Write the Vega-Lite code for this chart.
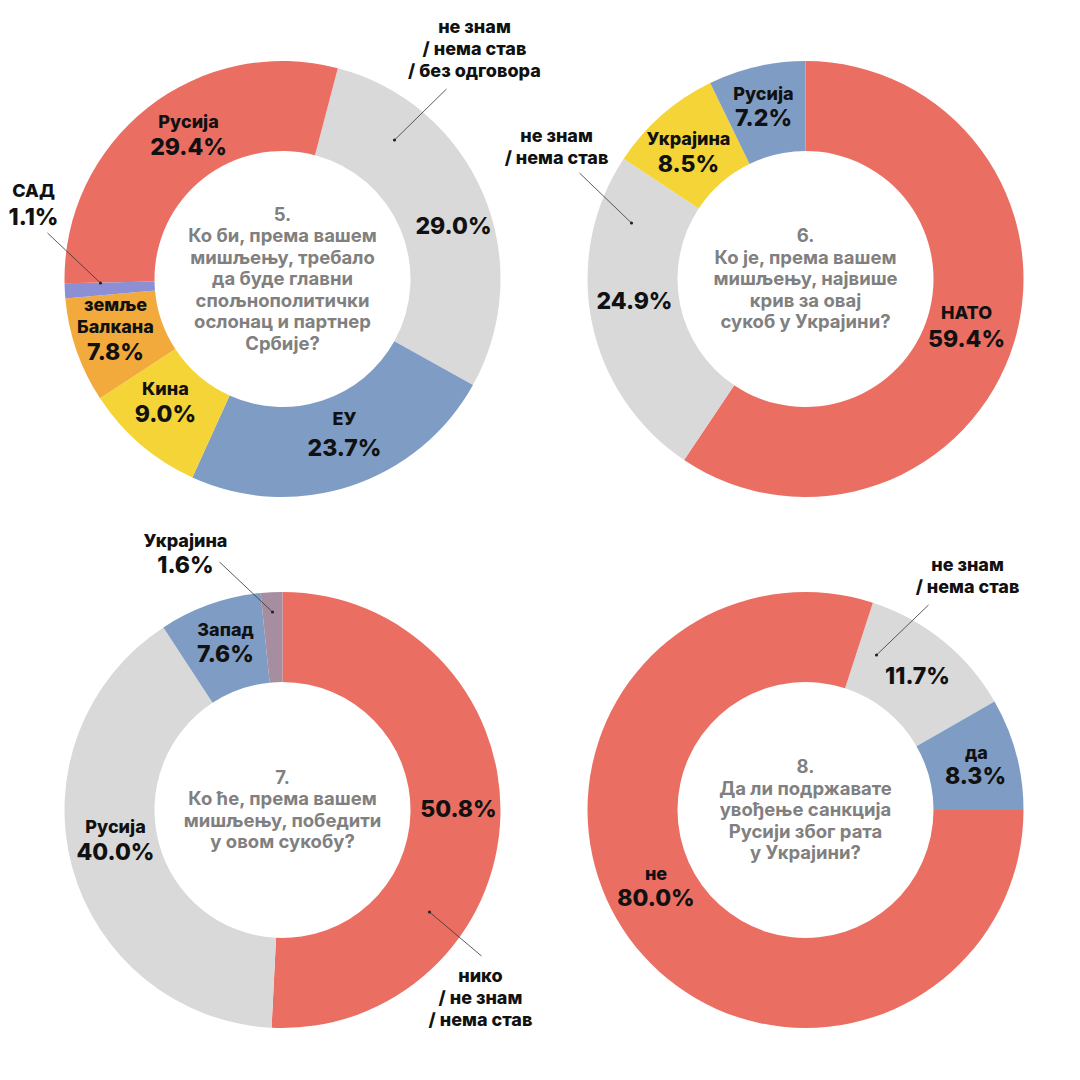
{
  "$schema": "https://vega.github.io/schema/vega-lite/v6.json",
  "background": "#ffffff",
  "autosize": {"type": "pad"},
  "padding": {"left": 8, "top": 13.5, "right": 0, "bottom": 0},
  "spacing": 0,
  "columns": 2,
  "bounds": "flush",
  "config": {
    "view": {"stroke": null},
    "text": {"font": "Inter", "color": "#111111", "align": "center", "baseline": "middle", "lineBreak": "\n", "lineHeight": 22},
    "style": {
      "nm": {"fontSize": 18, "fontWeight": 800},
      "pc": {"fontSize": 23, "fontWeight": 800}
    }
  },
  "resolve": {"scale": {"color": "independent", "theta": "independent", "x": "independent", "y": "independent"}},
  "concat": [
    {
      "width": 523, "height": 531,
      "layer": [
        {
          "data": {"values": [
            {"k": 1, "n": "не знам\n/ нема став\n/ без одговора", "v": 0.290},
            {"k": 2, "n": "ЕУ", "v": 0.237},
            {"k": 3, "n": "Кина", "v": 0.090},
            {"k": 4, "n": "земље\nБалкана", "v": 0.078},
            {"k": 5, "n": "САД", "v": 0.011},
            {"k": 6, "n": "Русија", "v": 0.294}
          ]},
          "transform": [{"window": [{"op": "sum", "field": "v", "as": "s1"}], "sort": [{"field": "k", "order": "ascending"}], "frame": [null, 0]}],
          "layer": [
            {"mark": {"type": "arc", "radius": 218, "innerRadius": 128}, "encoding": {
              "theta": {"field": "v", "type": "quantitative", "stack": true, "scale": {"domain": [0, 1], "range": [0.25656, 6.53975]}},
              "order": {"field": "k", "type": "quantitative"},
              "color": {"field": "n", "type": "nominal", "legend": null, "scale": {"domain": ["не знам\n/ нема став\n/ без одговора", "ЕУ", "Кина", "земље\nБалкана", "САД", "Русија"], "range": ["#D9D9D9", "#7F9DC4", "#F4D436", "#F2AA3C", "#8C8FD3", "#EB6E63"]}}}},
            {"transform": [{"filter": "datum.k==1"}], "mark": {"type": "text", "style": "nm", "radius": 172, "dx": 41.7, "dy": -334.6}, "encoding": {"theta": {"field": "s1", "type": "quantitative"}, "text": {"field": "n", "type": "nominal"}}},
            {"transform": [{"filter": "datum.k==1"}], "mark": {"type": "text", "style": "pc", "radius": 172, "dx": 20.7, "dy": -135.6}, "encoding": {"theta": {"field": "s1", "type": "quantitative"}, "text": {"field": "v", "type": "quantitative", "format": ".1%"}}},
            {"transform": [{"filter": "datum.k==2"}], "mark": {"type": "text", "style": "nm", "radius": 172, "dx": 133.1, "dy": -15.6}, "encoding": {"theta": {"field": "s1", "type": "quantitative"}, "text": {"field": "n", "type": "nominal"}}},
            {"transform": [{"filter": "datum.k==2"}], "mark": {"type": "text", "style": "pc", "radius": 172, "dx": 133.1, "dy": 13.4}, "encoding": {"theta": {"field": "s1", "type": "quantitative"}, "text": {"field": "v", "type": "quantitative", "format": ".1%"}}},
            {"transform": [{"filter": "datum.k==3"}], "mark": {"type": "text", "style": "nm", "radius": 172, "dx": 26.9, "dy": 16.9}, "encoding": {"theta": {"field": "s1", "type": "quantitative"}, "text": {"field": "n", "type": "nominal"}}},
            {"transform": [{"filter": "datum.k==3"}], "mark": {"type": "text", "style": "pc", "radius": 172, "dx": 26.9, "dy": 41.9}, "encoding": {"theta": {"field": "s1", "type": "quantitative"}, "text": {"field": "v", "type": "quantitative", "format": ".1%"}}},
            {"transform": [{"filter": "datum.k==4"}], "mark": {"type": "text", "style": "nm", "radius": 172, "dx": 4.3, "dy": 11.7}, "encoding": {"theta": {"field": "s1", "type": "quantitative"}, "text": {"field": "n", "type": "nominal"}}},
            {"transform": [{"filter": "datum.k==4"}], "mark": {"type": "text", "style": "pc", "radius": 172, "dx": 4.3, "dy": 58.7}, "encoding": {"theta": {"field": "s1", "type": "quantitative"}, "text": {"field": "v", "type": "quantitative", "format": ".1%"}}},
            {"transform": [{"filter": "datum.k==5"}], "mark": {"type": "text", "style": "nm", "radius": 172, "dx": -77, "dy": -90.4}, "encoding": {"theta": {"field": "s1", "type": "quantitative"}, "text": {"field": "n", "type": "nominal"}}},
            {"transform": [{"filter": "datum.k==5"}], "mark": {"type": "text", "style": "pc", "radius": 172, "dx": -77, "dy": -64.4}, "encoding": {"theta": {"field": "s1", "type": "quantitative"}, "text": {"field": "v", "type": "quantitative", "format": ".1%"}}},
            {"transform": [{"filter": "datum.k==6"}], "mark": {"type": "text", "style": "nm", "radius": 172, "dx": -137.6, "dy": 10.4}, "encoding": {"theta": {"field": "s1", "type": "quantitative"}, "text": {"field": "n", "type": "nominal"}}},
            {"transform": [{"filter": "datum.k==6"}], "mark": {"type": "text", "style": "pc", "radius": 172, "dx": -137.6, "dy": 35.4}, "encoding": {"theta": {"field": "s1", "type": "quantitative"}, "text": {"field": "v", "type": "quantitative", "format": ".1%"}}}
          ]
        },
        {"data": {"values": [{"u": 1}]}, "mark": {"type": "rule", "color": "#333333", "strokeWidth": 0.8}, "encoding": {"x": {"datum": -235, "type": "quantitative", "scale": {"domain": [-261.5, 261.5], "nice": false, "zero": false}, "axis": null}, "y": {"datum": -46, "type": "quantitative", "scale": {"domain": [-265.5, 265.5], "reverse": true, "nice": false, "zero": false}, "axis": null}, "x2": {"datum": -182}, "y2": {"datum": 4}}},
        {"data": {"values": [{"u": 1}]}, "mark": {"type": "rule", "color": "#333333", "strokeWidth": 0.8}, "encoding": {"x": {"datum": 164, "type": "quantitative", "scale": {"domain": [-261.5, 261.5], "nice": false, "zero": false}, "axis": null}, "y": {"datum": -190, "type": "quantitative", "scale": {"domain": [-265.5, 265.5], "reverse": true, "nice": false, "zero": false}, "axis": null}, "x2": {"datum": 112}, "y2": {"datum": -139}}},
        {"data": {"values": [{"u": 1}]}, "mark": {"type": "point", "filled": true, "size": 10, "color": "#222222", "opacity": 1}, "encoding": {"x": {"datum": -182, "type": "quantitative", "scale": {"domain": [-261.5, 261.5], "nice": false, "zero": false}, "axis": null}, "y": {"datum": 4, "type": "quantitative", "scale": {"domain": [-265.5, 265.5], "reverse": true, "nice": false, "zero": false}, "axis": null}}},
        {"data": {"values": [{"u": 1}]}, "mark": {"type": "point", "filled": true, "size": 10, "color": "#222222", "opacity": 1}, "encoding": {"x": {"datum": 112, "type": "quantitative", "scale": {"domain": [-261.5, 261.5], "nice": false, "zero": false}, "axis": null}, "y": {"datum": -139, "type": "quantitative", "scale": {"domain": [-265.5, 265.5], "reverse": true, "nice": false, "zero": false}, "axis": null}}},
        {"data": {"values": [{"q": "5.\nКо би, према вашем\nмишљењу, требало\nда буде главни\nспољнополитички\nослонац и партнер\nСрбије?"}]}, "mark": {"type": "text", "fontSize": 18.5, "fontWeight": 700, "color": "#808080", "lineHeight": 21.5, "dy": -64.5}, "encoding": {"text": {"field": "q", "type": "nominal"}}}
      ]
    },
    {
      "width": 523, "height": 531,
      "layer": [
        {
          "data": {"values": [
            {"k": 1, "n": "НАТО", "v": 0.594},
            {"k": 2, "n": "не знам\n/ нема став", "v": 0.249},
            {"k": 3, "n": "Украјина", "v": 0.085},
            {"k": 4, "n": "Русија", "v": 0.072}
          ]},
          "transform": [{"window": [{"op": "sum", "field": "v", "as": "s1"}], "sort": [{"field": "k", "order": "ascending"}], "frame": [null, 0]}],
          "layer": [
            {"mark": {"type": "arc", "radius": 218, "innerRadius": 128}, "encoding": {
              "theta": {"field": "v", "type": "quantitative", "stack": true, "scale": {"domain": [0, 1], "range": [0, 6.28319]}},
              "order": {"field": "k", "type": "quantitative"},
              "color": {"field": "n", "type": "nominal", "legend": null, "scale": {"domain": ["НАТО", "не знам\n/ нема став", "Украјина", "Русија"], "range": ["#EB6E63", "#D9D9D9", "#F4D436", "#7F9DC4"]}}}},
            {"transform": [{"filter": "datum.k==1"}], "mark": {"type": "text", "style": "nm", "radius": 172, "dx": 256.8, "dy": -107.8}, "encoding": {"theta": {"field": "s1", "type": "quantitative"}, "text": {"field": "n", "type": "nominal"}}},
            {"transform": [{"filter": "datum.k==1"}], "mark": {"type": "text", "style": "pc", "radius": 172, "dx": 256.8, "dy": -81.8}, "encoding": {"theta": {"field": "s1", "type": "quantitative"}, "text": {"field": "v", "type": "quantitative", "format": ".1%"}}},
            {"transform": [{"filter": "datum.k==2"}], "mark": {"type": "text", "style": "nm", "radius": 172, "dx": -105.5, "dy": -47.1}, "encoding": {"theta": {"field": "s1", "type": "quantitative"}, "text": {"field": "n", "type": "nominal"}}},
            {"transform": [{"filter": "datum.k==2"}], "mark": {"type": "text", "style": "pc", "radius": 172, "dx": -27.5, "dy": 117.9}, "encoding": {"theta": {"field": "s1", "type": "quantitative"}, "text": {"field": "v", "type": "quantitative", "format": ".1%"}}},
            {"transform": [{"filter": "datum.k==3"}], "mark": {"type": "text", "style": "nm", "radius": 172, "dx": -41.8, "dy": 15.7}, "encoding": {"theta": {"field": "s1", "type": "quantitative"}, "text": {"field": "n", "type": "nominal"}}},
            {"transform": [{"filter": "datum.k==3"}], "mark": {"type": "text", "style": "pc", "radius": 172, "dx": -41.8, "dy": 40.7}, "encoding": {"theta": {"field": "s1", "type": "quantitative"}, "text": {"field": "v", "type": "quantitative", "format": ".1%"}}},
            {"transform": [{"filter": "datum.k==4"}], "mark": {"type": "text", "style": "nm", "radius": 172, "dx": -42, "dy": -12}, "encoding": {"theta": {"field": "s1", "type": "quantitative"}, "text": {"field": "n", "type": "nominal"}}},
            {"transform": [{"filter": "datum.k==4"}], "mark": {"type": "text", "style": "pc", "radius": 172, "dx": -42, "dy": 12}, "encoding": {"theta": {"field": "s1", "type": "quantitative"}, "text": {"field": "v", "type": "quantitative", "format": ".1%"}}}
          ]
        },
        {"data": {"values": [{"u": 1}]}, "mark": {"type": "rule", "color": "#333333", "strokeWidth": 0.8}, "encoding": {"x": {"datum": -226, "type": "quantitative", "scale": {"domain": [-261.5, 261.5], "nice": false, "zero": false}, "axis": null}, "y": {"datum": -106, "type": "quantitative", "scale": {"domain": [-265.5, 265.5], "reverse": true, "nice": false, "zero": false}, "axis": null}, "x2": {"datum": -174}, "y2": {"datum": -56}}},
        {"data": {"values": [{"u": 1}]}, "mark": {"type": "point", "filled": true, "size": 10, "color": "#222222", "opacity": 1}, "encoding": {"x": {"datum": -174, "type": "quantitative", "scale": {"domain": [-261.5, 261.5], "nice": false, "zero": false}, "axis": null}, "y": {"datum": -56, "type": "quantitative", "scale": {"domain": [-265.5, 265.5], "reverse": true, "nice": false, "zero": false}, "axis": null}}},
        {"data": {"values": [{"q": "6.\nКо је, према вашем\nмишљењу, највише\nкрив за овај\nсукоб у Украјини?"}]}, "mark": {"type": "text", "fontSize": 18.5, "fontWeight": 700, "color": "#808080", "lineHeight": 21.5, "dy": -43}, "encoding": {"text": {"field": "q", "type": "nominal"}}}
      ]
    },
    {
      "width": 523, "height": 531,
      "layer": [
        {
          "data": {"values": [
            {"k": 1, "n": "нико\n/ не знам\n/ нема став", "v": 0.508},
            {"k": 2, "n": "Русија", "v": 0.400},
            {"k": 3, "n": "Запад", "v": 0.076},
            {"k": 4, "n": "Украјина", "v": 0.016}
          ]},
          "transform": [{"window": [{"op": "sum", "field": "v", "as": "s1"}], "sort": [{"field": "k", "order": "ascending"}], "frame": [null, 0]}],
          "layer": [
            {"mark": {"type": "arc", "radius": 218, "innerRadius": 128}, "encoding": {
              "theta": {"field": "v", "type": "quantitative", "stack": true, "scale": {"domain": [0, 1], "range": [0, 6.28319]}},
              "order": {"field": "k", "type": "quantitative"},
              "color": {"field": "n", "type": "nominal", "legend": null, "scale": {"domain": ["нико\n/ не знам\n/ нема став", "Русија", "Запад", "Украјина"], "range": ["#EB6E63", "#D9D9D9", "#7F9DC4", "#A68DA0"]}}}},
            {"transform": [{"filter": "datum.k==1"}], "mark": {"type": "text", "style": "nm", "radius": 172, "dx": 206.6, "dy": -4.8}, "encoding": {"theta": {"field": "s1", "type": "quantitative"}, "text": {"field": "n", "type": "nominal"}}},
            {"transform": [{"filter": "datum.k==1"}], "mark": {"type": "text", "style": "pc", "radius": 172, "dx": 184.6, "dy": -171.8}, "encoding": {"theta": {"field": "s1", "type": "quantitative"}, "text": {"field": "v", "type": "quantitative", "format": ".1%"}}},
            {"transform": [{"filter": "datum.k==2"}], "mark": {"type": "text", "style": "nm", "radius": 172, "dx": -73, "dy": 162.1}, "encoding": {"theta": {"field": "s1", "type": "quantitative"}, "text": {"field": "n", "type": "nominal"}}},
            {"transform": [{"filter": "datum.k==2"}], "mark": {"type": "text", "style": "pc", "radius": 172, "dx": -73, "dy": 187.1}, "encoding": {"theta": {"field": "s1", "type": "quantitative"}, "text": {"field": "v", "type": "quantitative", "format": ".1%"}}},
            {"transform": [{"filter": "datum.k==3"}], "mark": {"type": "text", "style": "nm", "radius": 172, "dx": -39.7, "dy": -7.9}, "encoding": {"theta": {"field": "s1", "type": "quantitative"}, "text": {"field": "n", "type": "nominal"}}},
            {"transform": [{"filter": "datum.k==3"}], "mark": {"type": "text", "style": "pc", "radius": 172, "dx": -39.7, "dy": 16.1}, "encoding": {"theta": {"field": "s1", "type": "quantitative"}, "text": {"field": "v", "type": "quantitative", "format": ".1%"}}},
            {"transform": [{"filter": "datum.k==4"}], "mark": {"type": "text", "style": "nm", "radius": 172, "dx": -97, "dy": -96}, "encoding": {"theta": {"field": "s1", "type": "quantitative"}, "text": {"field": "n", "type": "nominal"}}},
            {"transform": [{"filter": "datum.k==4"}], "mark": {"type": "text", "style": "pc", "radius": 172, "dx": -97, "dy": -72}, "encoding": {"theta": {"field": "s1", "type": "quantitative"}, "text": {"field": "v", "type": "quantitative", "format": ".1%"}}}
          ]
        },
        {"data": {"values": [{"u": 1}]}, "mark": {"type": "rule", "color": "#333333", "strokeWidth": 0.8}, "encoding": {"x": {"datum": -63, "type": "quantitative", "scale": {"domain": [-261.5, 261.5], "nice": false, "zero": false}, "axis": null}, "y": {"datum": -248, "type": "quantitative", "scale": {"domain": [-265.5, 265.5], "reverse": true, "nice": false, "zero": false}, "axis": null}, "x2": {"datum": -10}, "y2": {"datum": -198}}},
        {"data": {"values": [{"u": 1}]}, "mark": {"type": "rule", "color": "#333333", "strokeWidth": 0.8}, "encoding": {"x": {"datum": 199, "type": "quantitative", "scale": {"domain": [-261.5, 261.5], "nice": false, "zero": false}, "axis": null}, "y": {"datum": 146, "type": "quantitative", "scale": {"domain": [-265.5, 265.5], "reverse": true, "nice": false, "zero": false}, "axis": null}, "x2": {"datum": 147}, "y2": {"datum": 102}}},
        {"data": {"values": [{"u": 1}]}, "mark": {"type": "point", "filled": true, "size": 10, "color": "#222222", "opacity": 1}, "encoding": {"x": {"datum": -10, "type": "quantitative", "scale": {"domain": [-261.5, 261.5], "nice": false, "zero": false}, "axis": null}, "y": {"datum": -198, "type": "quantitative", "scale": {"domain": [-265.5, 265.5], "reverse": true, "nice": false, "zero": false}, "axis": null}}},
        {"data": {"values": [{"u": 1}]}, "mark": {"type": "point", "filled": true, "size": 10, "color": "#222222", "opacity": 1}, "encoding": {"x": {"datum": 147, "type": "quantitative", "scale": {"domain": [-261.5, 261.5], "nice": false, "zero": false}, "axis": null}, "y": {"datum": 102, "type": "quantitative", "scale": {"domain": [-265.5, 265.5], "reverse": true, "nice": false, "zero": false}, "axis": null}}},
        {"data": {"values": [{"q": "7.\nКо ће, према вашем\nмишљењу, победити\nу овом сукобу?"}]}, "mark": {"type": "text", "fontSize": 18.5, "fontWeight": 700, "color": "#808080", "lineHeight": 21.5, "dy": -32.25}, "encoding": {"text": {"field": "q", "type": "nominal"}}}
      ]
    },
    {
      "width": 523, "height": 531,
      "layer": [
        {
          "data": {"values": [
            {"k": 1, "n": "не знам\n/ нема став", "v": 0.117},
            {"k": 2, "n": "да", "v": 0.083},
            {"k": 3, "n": "не", "v": 0.800}
          ]},
          "transform": [{"window": [{"op": "sum", "field": "v", "as": "s1"}], "sort": [{"field": "k", "order": "ascending"}], "frame": [null, 0]}],
          "layer": [
            {"mark": {"type": "arc", "radius": 218, "innerRadius": 128}, "encoding": {
              "theta": {"field": "v", "type": "quantitative", "stack": true, "scale": {"domain": [0, 1], "range": [0.314159, 6.597345]}},
              "order": {"field": "k", "type": "quantitative"},
              "color": {"field": "n", "type": "nominal", "legend": null, "scale": {"domain": ["не знам\n/ нема став", "да", "не"], "range": ["#D9D9D9", "#7F9DC4", "#EB6E63"]}}}},
            {"transform": [{"filter": "datum.k==1"}], "mark": {"type": "text", "style": "nm", "radius": 172, "dx": 12.9, "dy": -158.3}, "encoding": {"theta": {"field": "s1", "type": "quantitative"}, "text": {"field": "n", "type": "nominal"}}},
            {"transform": [{"filter": "datum.k==1"}], "mark": {"type": "text", "style": "pc", "radius": 172, "dx": -37.1, "dy": -47.3}, "encoding": {"theta": {"field": "s1", "type": "quantitative"}, "text": {"field": "v", "type": "quantitative", "format": ".1%"}}},
            {"transform": [{"filter": "datum.k==2"}], "mark": {"type": "text", "style": "nm", "radius": 172, "dx": -1, "dy": -56}, "encoding": {"theta": {"field": "s1", "type": "quantitative"}, "text": {"field": "n", "type": "nominal"}}},
            {"transform": [{"filter": "datum.k==2"}], "mark": {"type": "text", "style": "pc", "radius": 172, "dx": -2, "dy": -33}, "encoding": {"theta": {"field": "s1", "type": "quantitative"}, "text": {"field": "v", "type": "quantitative", "format": ".1%"}}},
            {"transform": [{"filter": "datum.k==3"}], "mark": {"type": "text", "style": "nm", "radius": 172, "dx": -202.6, "dy": 228.6}, "encoding": {"theta": {"field": "s1", "type": "quantitative"}, "text": {"field": "n", "type": "nominal"}}},
            {"transform": [{"filter": "datum.k==3"}], "mark": {"type": "text", "style": "pc", "radius": 172, "dx": -202.6, "dy": 252.6}, "encoding": {"theta": {"field": "s1", "type": "quantitative"}, "text": {"field": "v", "type": "quantitative", "format": ".1%"}}}
          ]
        },
        {"data": {"values": [{"u": 1}]}, "mark": {"type": "rule", "color": "#333333", "strokeWidth": 0.8}, "encoding": {"x": {"datum": 123, "type": "quantitative", "scale": {"domain": [-261.5, 261.5], "nice": false, "zero": false}, "axis": null}, "y": {"datum": -205, "type": "quantitative", "scale": {"domain": [-265.5, 265.5], "reverse": true, "nice": false, "zero": false}, "axis": null}, "x2": {"datum": 71}, "y2": {"datum": -155}}},
        {"data": {"values": [{"u": 1}]}, "mark": {"type": "point", "filled": true, "size": 10, "color": "#222222", "opacity": 1}, "encoding": {"x": {"datum": 71, "type": "quantitative", "scale": {"domain": [-261.5, 261.5], "nice": false, "zero": false}, "axis": null}, "y": {"datum": -155, "type": "quantitative", "scale": {"domain": [-265.5, 265.5], "reverse": true, "nice": false, "zero": false}, "axis": null}}},
        {"data": {"values": [{"q": "8.\nДа ли подржавате\nувођење санкција\nРусији због рата\nу Украјини?"}]}, "mark": {"type": "text", "fontSize": 18.5, "fontWeight": 700, "color": "#808080", "lineHeight": 21.5, "dy": -43}, "encoding": {"text": {"field": "q", "type": "nominal"}}}
      ]
    }
  ]
}
